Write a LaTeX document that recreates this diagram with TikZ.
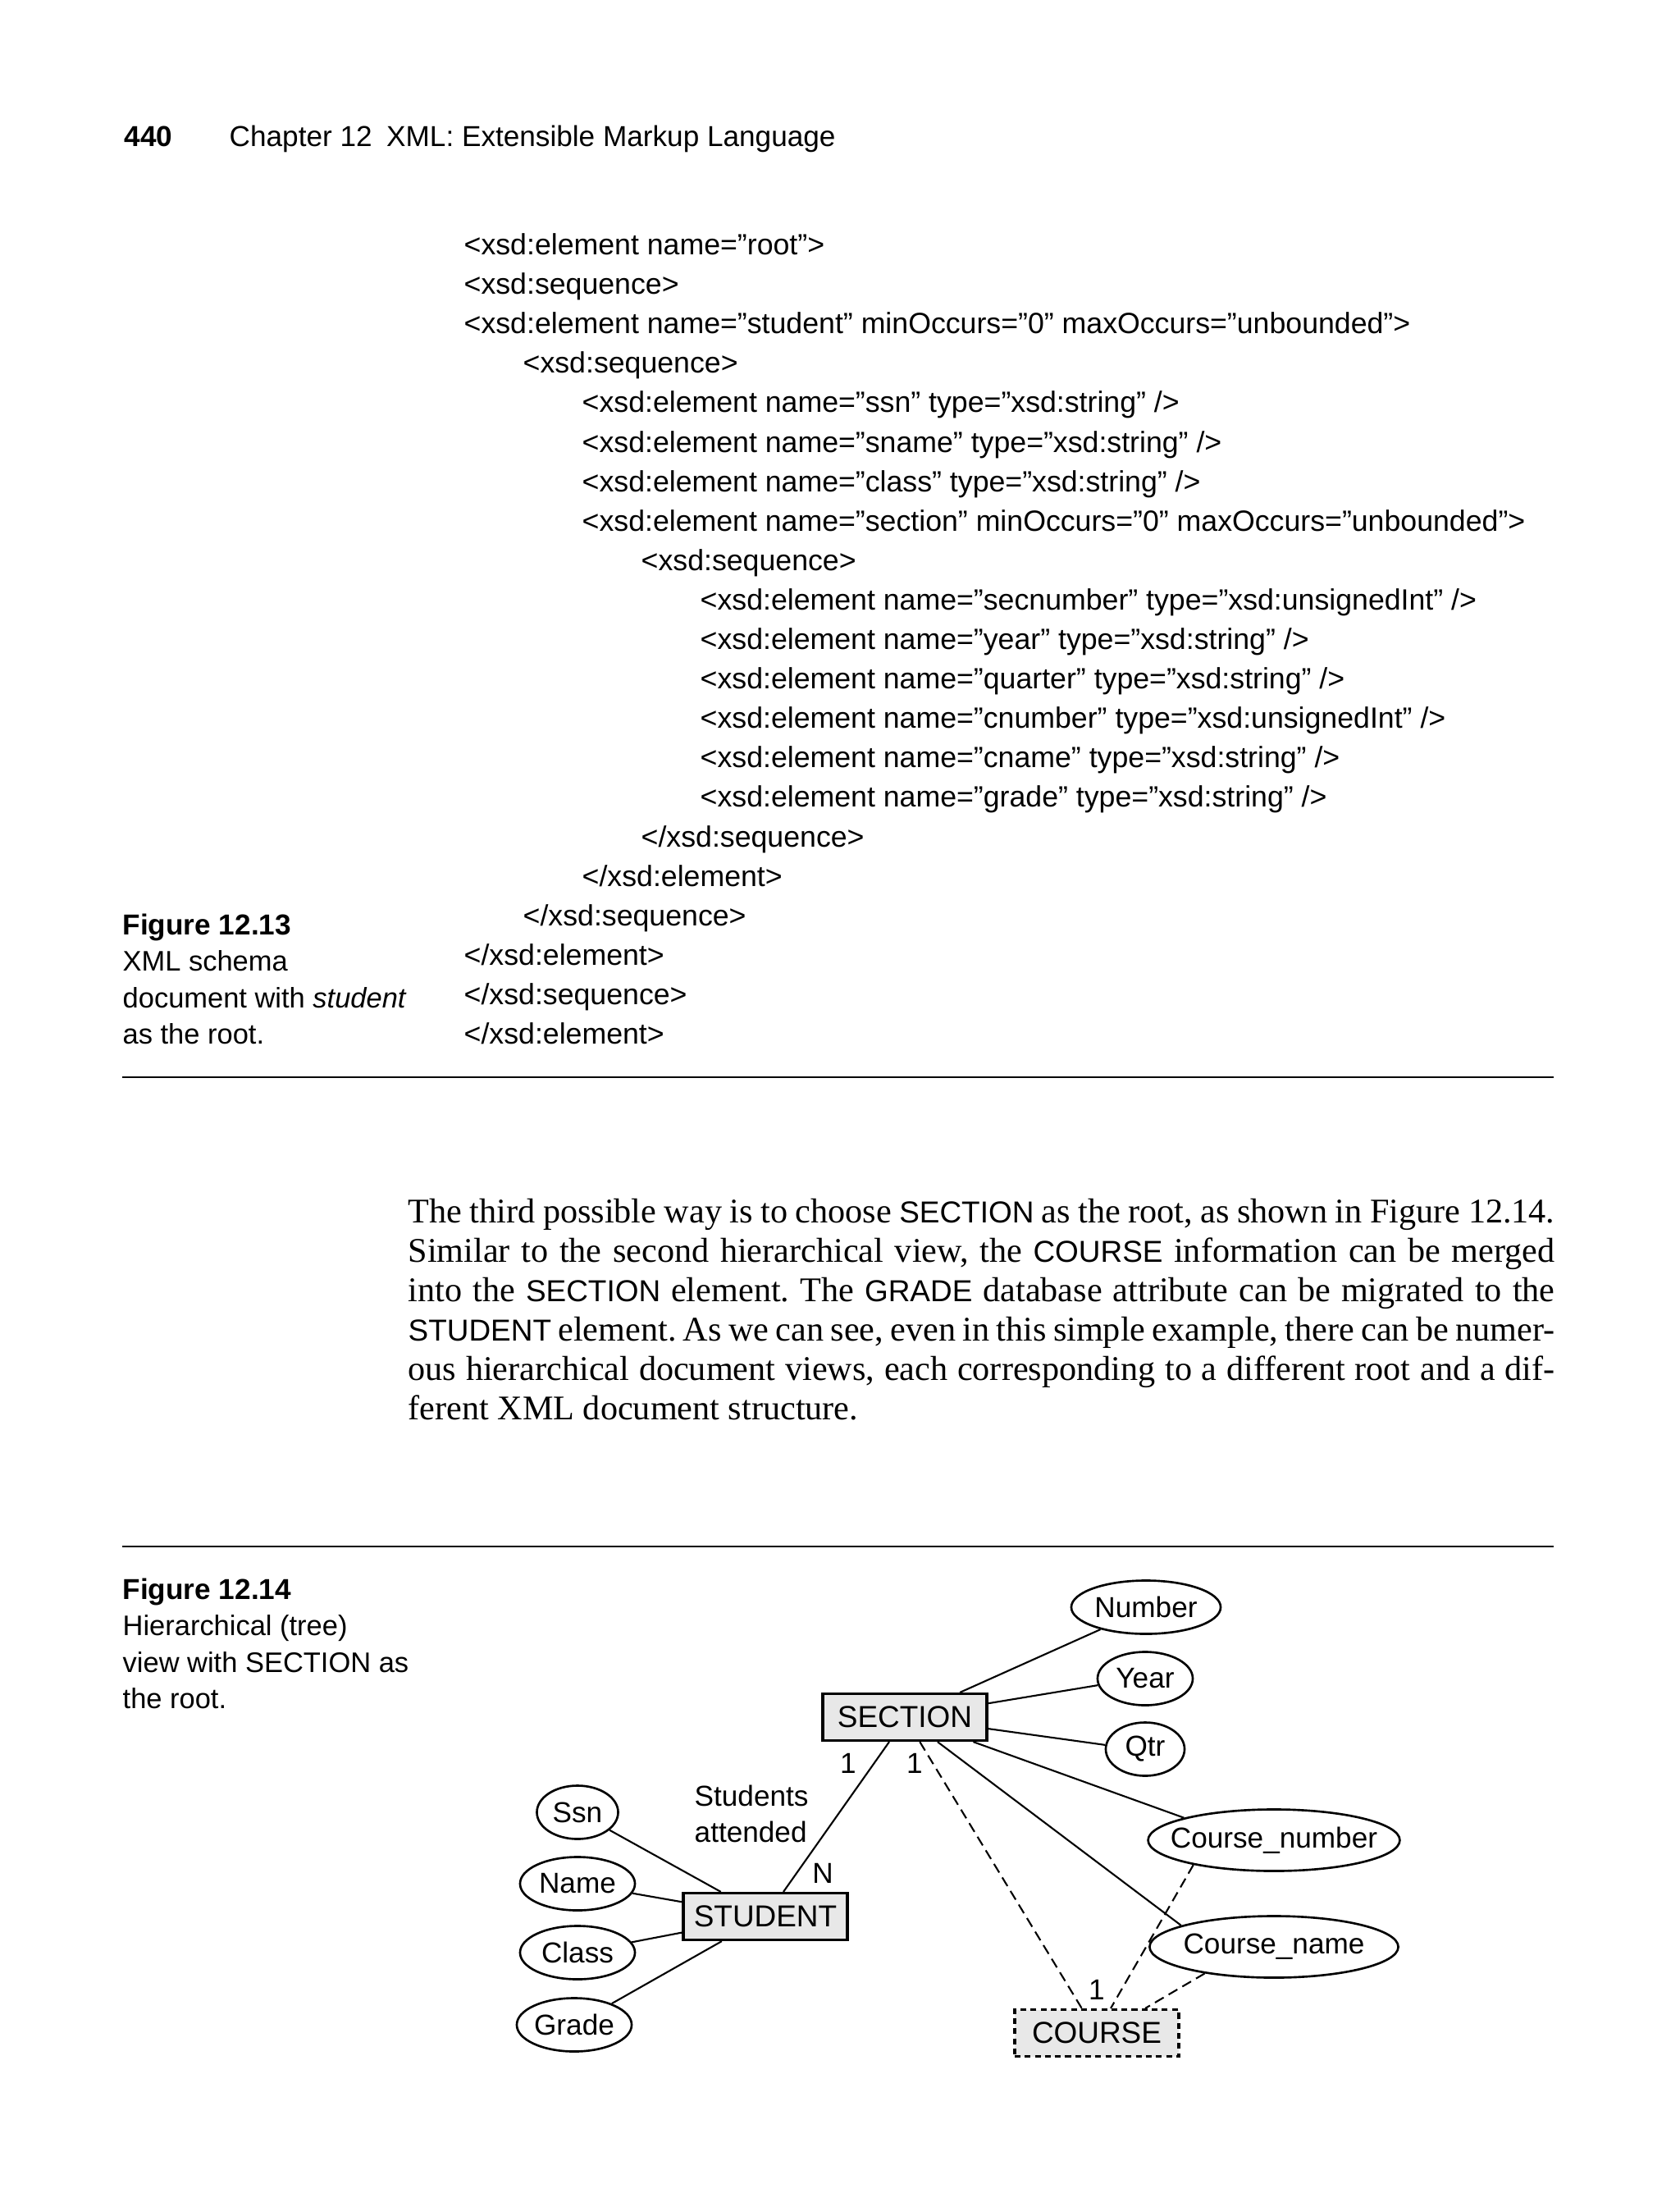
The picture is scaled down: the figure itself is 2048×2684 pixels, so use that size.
\documentclass[tikz,border=0pt]{standalone}
\usepackage{fontspec}
\setmainfont{Liberation Serif}
\setsansfont{Liberation Sans}
\usetikzlibrary{positioning,shapes.geometric,calc}
\definecolor{boxgray}{gray}{0.91}
\newcommand{\dbname}[1]{{\sffamily\fontsize{10.5}{12}\selectfont #1}}
\tikzset{
  codeline/.style={anchor=base west, inner sep=0pt, font=\sffamily\fontsize{10.15}{12}\selectfont},
  capline/.style={anchor=base west, inner sep=0pt, font=\sffamily\fontsize{9.8}{12}\selectfont},
  bodyline/.style={anchor=base west, inner sep=0pt, font=\rmfamily\fontsize{12}{13}\selectfont\frenchspacing},
  entity/.style={draw, line width=0.9pt, fill=boxgray, minimum width=2cm, minimum height=0.57cm, inner sep=2pt, font=\sffamily\fontsize{10.5}{12}\selectfont},
  weakentity/.style={entity, dash pattern=on 2pt off 1.5pt},
  attr/.style={ellipse, draw, line width=0.75pt, minimum height=0.65cm, inner xsep=-5pt, inner ysep=1pt, font=\sffamily\fontsize{10}{12}\selectfont},
  link/.style={line width=0.6pt},
  weaklink/.style={link, dash pattern=on 3.5pt off 2pt},
  card/.style={inner sep=1pt, font=\sffamily\fontsize{10}{12}\selectfont},
  rule/.style={line width=0.8pt},
}
\begin{document}
\begin{tikzpicture}[x=0.01cm,y=-0.01cm]
\useasboundingbox (0,0) rectangle (2048,2684);

% running head
\node[anchor=base west, inner sep=0pt, font=\sffamily\bfseries\fontsize{10}{12}\selectfont] (pagenum) at (151,178) {440};
\node[anchor=base west, inner sep=0pt, font=\sffamily\fontsize{10}{12}\selectfont] (head) at (279,178) {Chapter 12\enspace XML: Extensible Markup Language};

% schema listing
\node[codeline] (c1) at (565,310) {<xsd:element name=”root”>};
\node[codeline] (c2) at (565,358) {<xsd:sequence>};
\node[codeline] (c3) at (565,406) {<xsd:element name=”student” minOccurs=”0” maxOccurs=”unbounded”>};
\node[codeline] (c4) at (637,454) {<xsd:sequence>};
\node[codeline] (c5) at (709,502) {<xsd:element name=”ssn” type=”xsd:string” />};
\node[codeline] (c6) at (709,551) {<xsd:element name=”sname” type=”xsd:string” />};
\node[codeline] (c7) at (709,599) {<xsd:element name=”class” type=”xsd:string” />};
\node[codeline] (c8) at (709,647) {<xsd:element name=”section” minOccurs=”0” maxOccurs=”unbounded”>};
\node[codeline] (c9) at (781,695) {<xsd:sequence>};
\node[codeline] (c10) at (853,743) {<xsd:element name=”secnumber” type=”xsd:unsignedInt” />};
\node[codeline] (c11) at (853,791) {<xsd:element name=”year” type=”xsd:string” />};
\node[codeline] (c12) at (853,839) {<xsd:element name=”quarter” type=”xsd:string” />};
\node[codeline] (c13) at (853,887) {<xsd:element name=”cnumber” type=”xsd:unsignedInt” />};
\node[codeline] (c14) at (853,935) {<xsd:element name=”cname” type=”xsd:string” />};
\node[codeline] (c15) at (853,983) {<xsd:element name=”grade” type=”xsd:string” />};
\node[codeline] (c16) at (781,1032) {</xsd:sequence>};
\node[codeline] (c17) at (709,1080) {</xsd:element>};
\node[codeline] (c18) at (637,1128) {</xsd:sequence>};
\node[codeline] (c19) at (565,1176) {</xsd:element>};
\node[codeline] (c20) at (565,1224) {</xsd:sequence>};
\node[codeline] (c21) at (565,1272) {</xsd:element>};

% caption 12.13
\node[capline, font=\sffamily\bfseries\fontsize{10}{12}\selectfont] (capA1) at (149,1139) {Figure 12.13};
\node[capline] (capA2) at (149,1183) {XML schema};
\node[capline] (capA3) at (149,1228) {document with \textit{student}};
\node[capline] (capA4) at (149,1272) {as the root.};
\draw[rule] (149,1313) -- (1894,1313);

% body text
\node[bodyline] (p1) at (497,1490) {\makebox[13.97cm][s]{The third possible way is to choose \dbname{SECTION} as the root, as shown in Figure 12.14.}};
\node[bodyline] (p2) at (497,1538) {\makebox[13.97cm][s]{Similar to the second hierarchical view, the \dbname{COURSE} information can be merged}};
\node[bodyline] (p3) at (497,1586) {\makebox[13.97cm][s]{into the \dbname{SECTION} element. The \dbname{GRADE} database attribute can be migrated to the}};
\node[bodyline] (p4) at (497,1634) {\makebox[13.97cm][s]{\dbname{STUDENT} element. As we can see, even in this simple example, there can be numer-}};
\node[bodyline] (p5) at (497,1682) {\makebox[13.97cm][s]{ous hierarchical document views, each corresponding to a different root and a dif-}};
\node[bodyline] (p6) at (497,1730) {ferent XML document structure.};

% caption 12.14
\draw[rule] (149,1885) -- (1894,1885);
\node[capline, font=\sffamily\bfseries\fontsize{10}{12}\selectfont] (capB1) at (149,1949) {Figure 12.14};
\node[capline] (capB2) at (149,1993) {Hierarchical (tree)};
\node[capline] (capB3) at (149,2038) {view with SECTION as};
\node[capline] (capB4) at (149,2082) {the root.};

% tree
\node[entity] (sec) at (1103,2093) {SECTION};
\node[attr, minimum width=1.82cm] (num) at (1397,1959) {Number};
\node[attr, minimum width=1.16cm] (year) at (1396,2046) {Year};
\node[attr, minimum width=0.96cm] (qtr) at (1396,2132) {Qtr};
\node[attr, minimum width=3.03cm, minimum height=0.75cm] (cnum) at (1553,2243) {Course\_number};
\node[attr, minimum width=3.03cm, minimum height=0.75cm] (cname) at (1553,2373) {Course\_name};
\node[weakentity] (course) at (1337,2478) {COURSE};
\node[entity] (stu) at (933,2336) {STUDENT};
\node[attr, minimum width=0.99cm] (ssn) at (704,2209) {Ssn};
\node[attr, minimum width=1.40cm] (name) at (704,2296) {Name};
\node[attr, minimum width=1.40cm] (class) at (704,2380) {Class};
\node[attr, minimum width=1.40cm] (grade) at (700,2468) {Grade};
\node[anchor=west, align=left, inner sep=0pt, font=\sffamily\fontsize{10}{12.7}\selectfont] (rel) at (846,2211) {Students\\attended};

\node[card] (c1a) at (1034,2149) {1};
\node[card] (c1b) at (1115,2149) {1};
\node[card] (cn) at (1003,2283) {N};
\node[card] (c1c) at (1337,2425) {1};

\draw[link] (sec) -- (num.206);
\draw[link] (sec) -- (year.188);
\draw[link] (sec) -- (qtr.174);
\draw[link] (sec) -- (cnum.166);
\draw[link] (sec) -- (cname.167);
\draw[link] ([xshift=-0.19cm]sec.south) -- ([xshift=0.22cm]stu.north);
\draw[weaklink] (sec) -- (course);
\draw[weaklink] (cnum.197) -- ([xshift=0.17cm]course.north);
\draw[weaklink] (cname.201) -- ([xshift=0.59cm]course.north);
\draw[link] (stu) -- (ssn);
\draw[link] (stu) -- (name);
\draw[link] (stu) -- (class);
\draw[link] (stu) -- (grade);
\end{tikzpicture}
\end{document}
